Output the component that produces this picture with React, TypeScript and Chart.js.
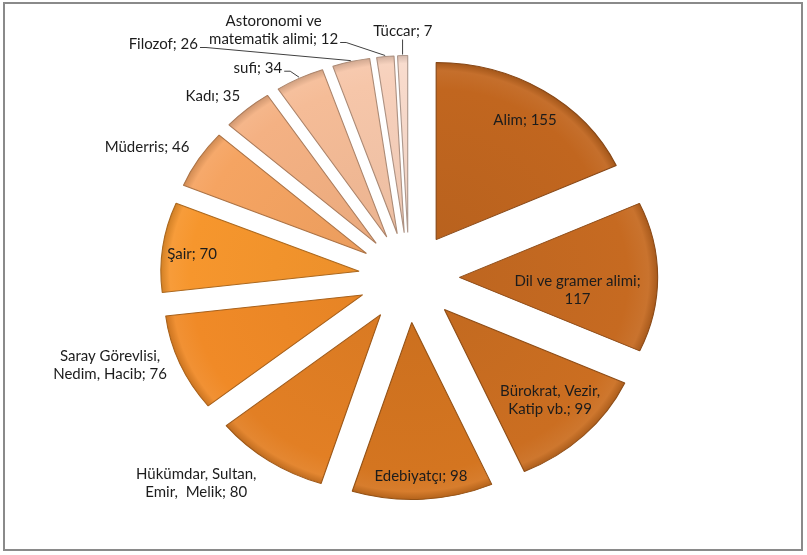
import React, { useEffect, useRef } from "react";
import { Chart, registerables } from "chart.js";
Chart.register(...registerables);

// ---- data ----
const categories = [
  "Alim",
  "Dil ve gramer alimi",
  "Bürokrat, Vezir,\nKatip vb.",
  "Edebiyatçı",
  "Hükümdar, Sultan,\nEmir,  Melik",
  "Saray Görevlisi,\nNedim, Hacib",
  "Şair",
  "Müderris",
  "Kadı",
  "sufi",
  "Filozof",
  "Astoronomi ve\nmatematik alimi",
  "Tüccar",
];
const values = [155, 117, 99, 98, 80, 76, 70, 46, 35, 34, 26, 12, 7];

// ---- style ----
const SLICE_COLORS = [
  "#c1661f", "#c66a21", "#cb6e21", "#d47520", "#e27f24", "#f08a27", "#f6962d",
  "#f5a462", "#f4b183", "#f5bc97", "#f6c6a9", "#f7d0bb", "#f8dacb",
];
const VALUE_ON_NEW_LINE = [false, true, false, false, false, false, false, false, false, false, false, false, false];
const LABEL_RADIUS = [188, 151, 176, 199, 280, 281, 195, 268, 252, 249, 320, 275, 246];
const LABEL_TURN = [0.8, 5, -1.1, 0.1, 8.4, 4.6, -1.1, -3.1, -3.4, -6.7, -29.8, -20.6, 0.2];
const LEADER = ["", "", "", "", "", "", "", "", "", "right", "right", "right", "bottom"];
const STRETCH_X = 1.12;
const EXPLODE = 45;
const RADIUS = 177;
const FONT = "15px Lato";
const LINE_H = 18;

function shade(hex: string, f: number): string {
  const n = parseInt(hex.slice(1), 16);
  let r = (n >> 16) & 255, g = (n >> 8) & 255, b = n & 255;
  if (f < 0) { r *= 1 + f; g *= 1 + f; b *= 1 + f; }
  else { r += (255 - r) * f; g += (255 - g) * f; b += (255 - b) * f; }
  return `rgb(${Math.round(r)},${Math.round(g)},${Math.round(b)})`;
}

function labelText(i: number): string[] {
  const sep = VALUE_ON_NEW_LINE[i] ? ";\n" : "; ";
  return (categories[i] + sep + values[i]).split("\n");
}

const explodePlugin = {
  id: "explodeStretch",
  beforeDatasetDraw(chart: any, args: any) {
    const meta = args.meta;
    const ctx = chart.ctx as CanvasRenderingContext2D;
    if (!meta.data.length) return false;
    const cx = meta.data[0].x, cy = meta.data[0].y;
    ctx.save();
    ctx.translate(cx, cy);
    ctx.scale(STRETCH_X, 1);
    ctx.translate(-cx, -cy);
    meta.data.forEach((arc: any) => {
      const mid = (arc.startAngle + arc.endAngle) / 2;
      ctx.save();
      ctx.translate(Math.cos(mid) * EXPLODE, Math.sin(mid) * EXPLODE);
      arc.draw(ctx);
      ctx.restore();
    });
    ctx.restore();
    return false;
  },
  afterDatasetsDraw(chart: any) {
    const meta = chart.getDatasetMeta(0);
    const ctx = chart.ctx as CanvasRenderingContext2D;
    ctx.save();
    ctx.font = FONT;
    ctx.textAlign = "center";
    ctx.textBaseline = "middle";
    meta.data.forEach((arc: any, i: number) => {
      const cx = arc.x, cy = arc.y;
      const mid0 = (arc.startAngle + arc.endAngle) / 2;
      const mid = mid0 + (LABEL_TURN[i] * Math.PI) / 180;
      const px = cx + STRETCH_X * LABEL_RADIUS[i] * Math.cos(mid);
      const py = cy + LABEL_RADIUS[i] * Math.sin(mid);
      const lines = labelText(i);
      const top = py - ((lines.length - 1) * LINE_H) / 2;
      ctx.fillStyle = "#1c1c1c";
      lines.forEach((ln, k) => ctx.fillText(ln, px, top + k * LINE_H));
      if (LEADER[i]) {
        const vx = cx + STRETCH_X * EXPLODE * Math.cos(mid0);
        const vy = cy + EXPLODE * Math.sin(mid0);
        const ox = vx + STRETCH_X * (RADIUS + 1) * Math.cos(mid0);
        const oy = vy + (RADIUS + 1) * Math.sin(mid0);
        ctx.strokeStyle = "#404040";
        ctx.lineWidth = 1;
        ctx.beginPath();
        if (LEADER[i] === "right") {
          const last = lines[lines.length - 1];
          const w = ctx.measureText(last).width;
          const sx = px + w / 2 + 2;
          const sy = top + (lines.length - 1) * LINE_H + 3;
          ctx.moveTo(sx, sy);
          ctx.lineTo(sx + 6, sy);
          ctx.lineTo(ox, oy);
        } else {
          const sy = top + (lines.length - 1) * LINE_H + 8;
          ctx.moveTo(ox, sy);
          ctx.lineTo(ox, oy);
        }
        ctx.stroke();
      }
    });
    ctx.restore();
  },
};

export default function App() {
  const ref = useRef<HTMLCanvasElement | null>(null);
  useEffect(() => {
    if (!ref.current) return;
    const chart = new Chart(ref.current, {
      type: "pie",
      data: {
        labels: categories.map((c) => c.replace("\n", " ")),
        datasets: [
          {
            data: values,
            radius: RADIUS,
            backgroundColor: (c: any) => {
              const base = SLICE_COLORS[c.dataIndex] || "#cccccc";
              const area = c.chart.chartArea;
              if (!area) return base;
              const cx = (area.left + area.right) / 2;
              const cy = (area.top + area.bottom) / 2;
              const g = c.chart.ctx.createRadialGradient(cx, cy, 0, cx, cy, RADIUS);
              g.addColorStop(0, shade(base, -0.04));
              g.addColorStop(0.85, base);
              g.addColorStop(0.955, shade(base, 0.06));
              g.addColorStop(1, shade(base, -0.15));
              return g;
            },
            borderColor: SLICE_COLORS.map((c) => shade(c, -0.3)),
            borderWidth: 1,
          } as any,
        ],
      },
      options: {
        responsive: false,
        animation: false,
        layout: { padding: { left: 11, right: 0, top: 0, bottom: 0 } },
        plugins: { legend: { display: false }, tooltip: { enabled: false } },
      },
      plugins: [explodePlugin],
    });
    return () => chart.destroy();
  }, []);
  return (
    <div style={{ position: "fixed", left: 0, top: 0, width: 807, height: 555, background: "#fff" }}>
      <canvas ref={ref} width={807} height={555} style={{ width: 807, height: 555, display: "block" }} />
      <div
        style={{
          position: "absolute",
          left: 3,
          top: 2,
          width: 800,
          height: 549,
          border: "2px solid #8a8a8a",
          boxSizing: "border-box",
          pointerEvents: "none",
        }}
      />
    </div>
  );
}
